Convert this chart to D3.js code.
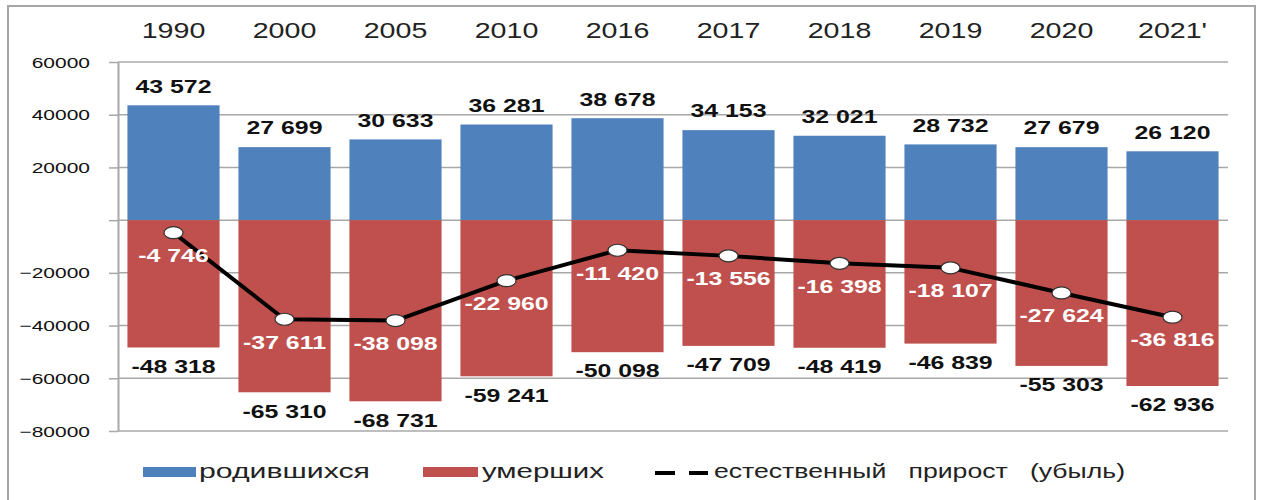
<!DOCTYPE html>
<html>
<head>
<meta charset="utf-8">
<script src="https://cdn.jsdelivr.net/npm/d3@7"></script>
<style>
body { margin: 0; background: #fff; }
text { font-family: "Liberation Sans", Arial, sans-serif; }
</style>
</head>
<body>
<svg class="chart"></svg>
<script>
const years = ["1990","2000","2005","2010","2016","2017","2018","2019","2020","2021'"]
const births = [43572, 27699, 30633, 36281, 38678, 34153, 32021, 28732, 27679, 26120]
const deaths = [-48318, -65310, -68731, -59241, -50098, -47709, -48419, -46839, -55303, -62936]
const natural = [-4746, -37611, -38098, -22960, -11420, -13556, -16398, -18107, -27624, -36816]
const yTicks = [60000, 40000, 20000, 0, -20000, -40000, -60000, -80000]
const legendNames = ["родившихся", "умерших", "естественный   прирост   (убыль)"]

const W = 1262, H = 500
const blue = "#4f81bd", red = "#c0504d", grid = "#a8a8a8"

const svg = d3.select(".chart").attr("width", W).attr("height", H)

// outer frame
svg.append("rect")
.attr("x", 8).attr("y", 6)
.attr("width", 1247).attr("height", 500)
.attr("fill", "none")
.style("stroke", "#a6a6a6")
.style("stroke-width", "2px")

const x = d3.scaleBand()
.domain(years)
.range([118, 1228])
.paddingInner(0.17)
.paddingOuter(0.085)

const y = d3.scaleLinear()
.domain([-80000, 60000])
.range([431, 62])

// stretch text horizontally (the source picture is wide)
function place(sel, px, py, sx) {
  sel.attr("x", 0).attr("y", 0)
  .attr("transform", (d, i) => "translate(" + px(d, i) + "," + py(d, i) + ") scale(" + sx + ",1)")
}

const fmt = (v) => {
  const s = d3.format(",")(Math.abs(v)).replace(/,/g, "\u00a0")
  return (v < 0 ? "-" : "") + s
}

// gridlines
svg.append("g").selectAll("line")
.data(yTicks)
.join("line")
.attr("x1", 118).attr("x2", 1228)
.attr("y1", (d) => y(d)).attr("y2", (d) => y(d))
.style("stroke", grid)
.style("stroke-width", "1.5px")

// y axis, zero has a tick but no label
const yAxis = svg.append("g")
.attr("transform", "translate(118,0)")
.call(d3.axisLeft(y).tickValues(yTicks)
  .tickFormat((d) => d === 0 ? "" : d3.format("d")(d))
  .tickSize(9).tickSizeOuter(0))

yAxis.select(".domain").style("stroke", grid).style("stroke-width", "2px")
yAxis.selectAll(".tick line").style("stroke", grid).style("stroke-width", "1.5px")
yAxis.selectAll(".tick text")
.attr("fill", "#111")
.style("font-size", "15px")
.attr("dy", "0.34em")
.call(place, () => -28, () => 0, 1.4)

// bars
svg.append("g").selectAll("rect")
.data(births)
.join("rect")
.attr("x", (d, i) => x(years[i]))
.attr("y", (d) => y(d))
.attr("width", x.bandwidth())
.attr("height", (d) => y(0) - y(d))
.attr("fill", blue)

svg.append("g").selectAll("rect")
.data(deaths)
.join("rect")
.attr("x", (d, i) => x(years[i]))
.attr("y", y(0))
.attr("width", x.bandwidth())
.attr("height", (d) => y(d) - y(0))
.attr("fill", red)

const cx = (i) => x(years[i]) + x.bandwidth() / 2

// year labels on top
svg.append("g").selectAll("text")
.data(years)
.join("text")
.text((d) => d)
.attr("text-anchor", "middle")
.style("font-size", "22px")
.attr("fill", "#222")
.call(place, (d, i) => cx(i), () => 37.5, 1.3)

// bar value labels
svg.append("g").selectAll("text")
.data(births)
.join("text")
.text((d) => fmt(d))
.attr("text-anchor", "middle")
.attr("dy", "0.35em")
.style("font-size", "18px")
.style("font-weight", "bold")
.attr("fill", "#111")
.call(place, (d, i) => cx(i), (d) => y(d) - 19, 1.38)

svg.append("g").selectAll("text")
.data(deaths)
.join("text")
.text((d) => fmt(d))
.attr("text-anchor", "middle")
.attr("dy", "0.35em")
.style("font-size", "18px")
.style("font-weight", "bold")
.attr("fill", "#111")
.call(place, (d, i) => cx(i), (d) => y(d) + 19, 1.38)

// natural growth line
const line = d3.line()
.x((d, i) => cx(i))
.y((d) => y(d))

svg.append("path")
.attr("d", line(natural))
.attr("fill", "none")
.style("stroke", "#000")
.style("stroke-width", "4px")
.style("stroke-linejoin", "round")

svg.append("g").selectAll("ellipse")
.data(natural)
.join("ellipse")
.attr("cx", (d, i) => cx(i))
.attr("cy", (d) => y(d))
.attr("rx", 9.5)
.attr("ry", 6)
.attr("fill", "#fff")
.style("stroke", "#333")
.style("stroke-width", "1.2px")

svg.append("g").selectAll("text")
.data(natural)
.join("text")
.text((d) => fmt(d))
.attr("text-anchor", "middle")
.attr("dy", "0.35em")
.style("font-size", "18px")
.style("font-weight", "bold")
.attr("fill", "#fff")
.call(place, (d, i) => cx(i), (d) => y(d) + 23, 1.38)

// legend
const lg = svg.append("g")
lg.append("rect").attr("x", 143).attr("y", 467).attr("width", 53).attr("height", 10).attr("fill", blue)
lg.append("rect").attr("x", 423).attr("y", 467).attr("width", 55).attr("height", 10).attr("fill", red)
lg.append("line").attr("x1", 655).attr("x2", 675).attr("y1", 473).attr("y2", 473).style("stroke", "#000").style("stroke-width", "4px")
lg.append("line").attr("x1", 689).attr("x2", 708).attr("y1", 473).attr("y2", 473).style("stroke", "#000").style("stroke-width", "4px")

const legX = [199, 482, 714]
const legW = [171, 122, 411]
lg.selectAll("text")
.data(legendNames)
.join("text")
.text((d) => d)
.attr("x", (d, i) => legX[i])
.attr("y", 478)
.attr("textLength", (d, i) => legW[i])
.attr("lengthAdjust", "spacingAndGlyphs")
.style("font-size", "20px")
.style("white-space", "pre")
.attr("fill", "#222")
</script>
</body>
</html>
